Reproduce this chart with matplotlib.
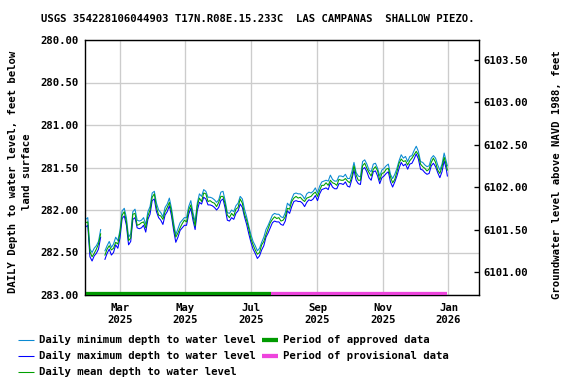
import matplotlib
matplotlib.use('Agg')
import matplotlib.pyplot as plt
import matplotlib.dates as mdates
from matplotlib.lines import Line2D
import numpy as np
import pandas as pd

title = "USGS 354228106044903 T17N.R08E.15.233C  LAS CAMPANAS  SHALLOW PIEZO."

# observation dates (every second day, plus final day)
dates = pd.date_range('2025-01-28', '2025-12-30', freq='2D').append(pd.DatetimeIndex(['2025-12-31']))

nan = np.nan
depth_mean = [
    282.15, 282.14, 282.49, 282.55, 282.51, 282.46, 282.40, 282.28, nan, 282.53,
    282.46, 282.42, 282.47, 282.45, 282.38, 282.40, 282.27, 282.06, 282.02, 282.14,
    282.36, 282.33, 282.05, 282.04, 282.18, 282.17, 282.15, 282.14, 282.21, 282.07,
    282.00, 281.85, 281.81, 281.97, 282.06, 282.07, 282.11, 282.02, 281.97, 281.91,
    282.02, 282.20, 282.32, 282.27, 282.21, 282.16, 282.12, 282.14, 282.00, 281.94,
    282.07, 282.19, 281.95, 281.86, 281.90, 281.80, 281.81, 281.90, 281.89, 281.91,
    281.92, 281.96, 281.91, 281.84, 281.84, 281.93, 282.06, 282.09, 282.04, 282.07,
    281.99, 281.97, 281.87, 281.92, 282.05, 282.12, 282.22, 282.34, 282.41, 282.47,
    282.52, 282.50, 282.41, 282.37, 282.29, 282.22, 282.15, 282.11, 282.08, 282.10,
    282.09, 282.13, 282.12, 282.08, 281.98, 281.99, 281.90, 281.86, 281.84, 281.86,
    281.85, 281.88, 281.90, 281.86, 281.85, 281.84, 281.81, 281.79, 281.84, 281.77,
    281.71, 281.71, 281.68, 281.71, 281.65, 281.68, 281.69, 281.71, 281.64, 281.65,
    281.65, 281.63, 281.66, 281.68, 281.61, 281.48, 281.59, 281.65, 281.65, 281.48,
    281.45, 281.51, 281.56, 281.60, 281.52, 281.49, 281.54, 281.65, 281.57, 281.56,
    281.52, 281.51, 281.61, 281.68, 281.64, 281.55, 281.45, 281.40, 281.43, 281.42,
    281.47, 281.42, 281.39, 281.35, 281.31, 281.35, 281.46, 281.49, 281.51, 281.54,
    281.52, 281.44, 281.39, 281.44, 281.53, 281.57, 281.49, 281.38, 281.47, 281.53,
]
depth_min = [
    282.11, 282.09, 282.46, 282.50, 282.45, 282.42, 282.37, 282.23, nan, 282.48,
    282.42, 282.37, 282.44, 282.40, 282.32, 282.36, 282.24, 282.01, 281.98, 282.09,
    282.32, 282.28, 282.02, 281.99, 282.12, 282.13, 282.12, 282.09, 282.17, 282.02,
    281.96, 281.80, 281.78, 281.92, 282.00, 282.03, 282.08, 281.97, 281.93, 281.86,
    281.98, 282.15, 282.29, 282.22, 282.15, 282.12, 282.09, 282.09, 281.96, 281.89,
    282.03, 282.14, 281.92, 281.81, 281.84, 281.76, 281.78, 281.85, 281.85, 281.86,
    281.88, 281.91, 281.88, 281.79, 281.78, 281.89, 282.03, 282.04, 282.00, 282.02,
    281.95, 281.92, 281.84, 281.87, 281.99, 282.08, 282.19, 282.29, 282.37, 282.42,
    282.48, 282.45, 282.38, 282.32, 282.23, 282.18, 282.12, 282.06, 282.04, 282.05,
    282.05, 282.08, 282.09, 282.03, 281.92, 281.95, 281.87, 281.81, 281.80, 281.81,
    281.81, 281.83, 281.87, 281.81, 281.79, 281.80, 281.78, 281.74, 281.80, 281.72,
    281.67, 281.66, 281.65, 281.66, 281.59, 281.64, 281.66, 281.66, 281.60, 281.60,
    281.61, 281.58, 281.63, 281.63, 281.55, 281.44, 281.56, 281.60, 281.61, 281.43,
    281.41, 281.46, 281.53, 281.55, 281.46, 281.45, 281.51, 281.60, 281.53, 281.51,
    281.48, 281.46, 281.58, 281.63, 281.58, 281.51, 281.42, 281.35, 281.39, 281.37,
    281.43, 281.37, 281.36, 281.30, 281.25, 281.31, 281.43, 281.44, 281.47, 281.49,
    281.48, 281.39, 281.36, 281.39, 281.47, 281.53, 281.46, 281.33, 281.43, 281.48,
]
depth_max = [
    282.20, 282.18, 282.55, 282.60, 282.54, 282.51, 282.46, 282.32, nan, 282.58,
    282.51, 282.46, 282.53, 282.50, 282.41, 282.45, 282.33, 282.10, 282.07, 282.18,
    282.41, 282.37, 282.11, 282.09, 282.21, 282.22, 282.21, 282.18, 282.26, 282.11,
    282.05, 281.89, 281.87, 282.02, 282.09, 282.12, 282.17, 282.06, 282.02, 281.95,
    282.07, 282.24, 282.38, 282.32, 282.24, 282.21, 282.18, 282.18, 282.05, 281.98,
    282.12, 282.23, 282.01, 281.91, 281.93, 281.85, 281.87, 281.94, 281.94, 281.95,
    281.97, 282.00, 281.97, 281.89, 281.87, 281.98, 282.12, 282.13, 282.09, 282.11,
    282.04, 282.01, 281.93, 281.97, 282.08, 282.17, 282.28, 282.38, 282.46, 282.51,
    282.57, 282.54, 282.47, 282.42, 282.32, 282.27, 282.21, 282.15, 282.13, 282.14,
    282.14, 282.17, 282.18, 282.13, 282.01, 282.04, 281.96, 281.90, 281.89, 281.90,
    281.90, 281.92, 281.96, 281.91, 281.88, 281.89, 281.87, 281.83, 281.89, 281.81,
    281.76, 281.75, 281.74, 281.76, 281.68, 281.73, 281.75, 281.75, 281.69, 281.69,
    281.70, 281.67, 281.72, 281.73, 281.64, 281.53, 281.65, 281.69, 281.70, 281.52,
    281.50, 281.55, 281.62, 281.65, 281.55, 281.54, 281.60, 281.69, 281.62, 281.60,
    281.57, 281.55, 281.67, 281.73, 281.67, 281.60, 281.51, 281.44, 281.48, 281.46,
    281.52, 281.46, 281.45, 281.40, 281.34, 281.40, 281.52, 281.53, 281.56, 281.58,
    281.57, 281.48, 281.45, 281.49, 281.56, 281.62, 281.55, 281.42, 281.52, 281.60,
]

approved_period = ['2025-01-28', '2025-07-20']
provisional_period = ['2025-07-20', '2025-12-31']

left_ticks = [280.0, 280.5, 281.0, 281.5, 282.0, 282.5, 283.0]
right_ticks = [6101.0, 6101.5, 6102.0, 6102.5, 6103.0, 6103.5]
datum = 6383.73  # elevation (NAVD 1988) = datum - depth

month_ticks = ['2025-03-01', '2025-05-01', '2025-07-01', '2025-09-01', '2025-11-01', '2026-01-01']
month_labels = ['Mar\n2025', 'May\n2025', 'Jul\n2025', 'Sep\n2025', 'Nov\n2025', 'Jan\n2026']

legend_labels = ['Daily minimum depth to water level',
                 'Daily maximum depth to water level',
                 'Daily mean depth to water level',
                 'Period of approved data',
                 'Period of provisional data']

c_min = '#0a8ad2'
c_max = '#0000ff'
c_mean = '#00a000'
c_appr = '#009a00'
c_prov = '#ee44dd'
c_grid = '#cccccc'

FONT = 'DejaVu Sans Mono'
FS = 8
plt.rcParams['font.family'] = [FONT]
plt.rcParams['font.weight'] = 'bold'
plt.rcParams['font.size'] = FS

W, H = 576, 384
fig = plt.figure(figsize=(W / 96, H / 96), dpi=96)
ax = fig.add_axes([85 / W, 1 - 295 / H, (478.5 - 85) / W, (295 - 40) / H])

x = dates
ax.plot(x, depth_min, color=c_min, lw=0.8, zorder=3)
ax.plot(x, depth_max, color=c_max, lw=0.8, zorder=3)
ax.plot(x, depth_mean, color=c_mean, lw=0.8, zorder=4)

bar_y = 282.985
ax.plot(pd.to_datetime(approved_period), [bar_y, bar_y], color=c_appr, lw=3.2,
        solid_capstyle='butt', zorder=5, clip_on=False)
ax.plot(pd.to_datetime(provisional_period), [bar_y, bar_y], color=c_prov, lw=3.2,
        solid_capstyle='butt', zorder=5, clip_on=False)

ax.set_ylim(283.0, 280.0)
ax.set_xlim(pd.Timestamp('2025-01-27 10:00'), pd.Timestamp('2026-01-29'))
ax.set_yticks(left_ticks)
ax.set_yticklabels([f'{v:.2f}' for v in left_ticks])
ax.set_xticks(pd.to_datetime(month_ticks))
ax.set_xticklabels(month_labels)
ax.grid(True, color=c_grid, lw=1.0, zorder=0)
ax.set_axisbelow(True)
ax.tick_params(axis='y', length=0, pad=5)
ax.tick_params(axis='x', length=0, pad=6)
for s in ax.spines.values():
    s.set_linewidth(1.0)
    s.set_color('black')

ax2 = ax.twinx()
ax2.set_ylim(datum - 283.0, datum - 280.0)
ax2.set_yticks(right_ticks)
ax2.set_yticklabels([f'{v:.2f}' for v in right_ticks])
ax2.tick_params(axis='y', direction='in', length=4, width=1, pad=4)

fig.text(20 / W, 1 - 172 / H, 'DAILY Depth to water level, feet below\nland surface',
         rotation=90, ha='center', va='center', fontsize=FS, fontweight='bold',
         linespacing=1.5, multialignment='center')
fig.text(557 / W, 1 - 175 / H, 'Groundwater level above NAVD 1988, feet',
         rotation=90, ha='center', va='center', fontsize=FS, fontweight='bold')

fig.text(258 / W, 1 - 19 / H, title, ha='center', va='center', fontsize=FS, fontweight='bold')

# legend
handles = [
    (c_min, 0.8), (c_max, 0.8), (c_mean, 0.8), (c_appr, 3.2), (c_prov, 3.2)
]
positions = [(18, 340), (18, 356), (18, 372), (262, 340), (262, 356)]
for (col, lw), (px, py), lab in zip(handles, positions, legend_labels):
    fig.add_artist(Line2D([px / W, (px + 16) / W], [1 - py / H, 1 - py / H],
                          color=col, lw=lw, solid_capstyle='butt'))
    fig.text((px + 21) / W, 1 - py / H, lab, ha='left', va='center',
             fontsize=FS, fontweight='bold')

fig.savefig('out.png', dpi=96)
